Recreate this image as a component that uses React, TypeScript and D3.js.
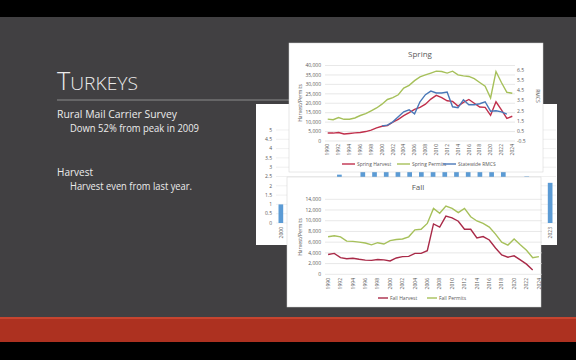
import React from "react";
import * as d3 from "d3";

// categories
const years = d3.range(1990, 2025);
const labelYears = years.filter((y) => y % 2 === 0);
const rmcsYears = d3.range(2000, 2024);

// spring series, 1990-2024
const springHarvest = [
  4200, 4200, 4500, 3700, 4000, 4300, 4500, 5000, 5800, 7000, 7800, 8200, 10000, 11500, 13400, 15000, 16800,
  17800, 19500, 22200, 24200, 23000, 21300, 21000, 18500, 20500, 22000, 20000, 18000, 17800, 13600, 20800,
  16500, 12000, 13100,
];
const springPermits = [
  11600, 11300, 12400, 11500, 11500, 12200, 13500, 14500, 16000, 17500, 19500, 22000, 23000, 24500, 28000,
  29500, 32000, 34000, 35000, 36000, 37000, 36800, 36000, 37000, 35000, 34500, 34200, 33000, 31000, 29000,
  22800, 36800, 31000, 25800, 25300,
];
// statewide RMCS, 2000-2023
const rmcs = [
  1.0, 1.08, 1.4, 1.9, 2.4, 2.6, 2.2, 3.4, 4.1, 4.46, 4.27, 4.27, 4.37, 2.9, 2.8, 3.6, 3.1, 3.1, 3.2, 3.4, 2.46,
  2.5, 2.4, 2.16,
];

// fall series, 1990-2024
const fallHarvest = [
  3700, 3900, 3100, 2900, 3000, 2800, 2650, 2600, 2750, 2700, 2500, 3050, 3300, 3350, 3900, 3900, 4400, 9400,
  8800, 10850, 10550, 9900, 8400, 8400, 6800, 7050, 6400, 4900, 3600, 3200, 3450, 2700, 1900, 800, null,
];
const fallPermits = [
  7000, 7200, 7000, 6200, 6150, 6000, 5850, 5500, 5900, 5650, 6300, 6500, 6600, 7000, 8300, 8400, 9500, 12300,
  11400, 12750, 12300, 11500, 12300, 10750, 9950, 9500, 8800, 7500, 6000, 5450, 6600, 5500, 4500, 3100, 3300,
];

// tick values
const springLeftTicks = [0, 5000, 10000, 15000, 20000, 25000, 30000, 35000, 40000];
const springRightTicks = [-0.5, 0.5, 1.5, 2.5, 3.5, 4.5, 5.5, 6.5];
const fallTicks = [0, 2000, 4000, 6000, 8000, 10000, 12000, 14000];
const bgTicks = [0, 0.5, 1, 1.5, 2, 2.5, 3, 3.5, 4, 4.5, 5];

const fmt = d3.format(",");
const axisGrey = "#595959";
const gridGrey = "#d9d9d9";
const red = "#c0304c";
const fallRed = "#a92a48";
const green = "#a6c05a";
const blue = "#4a78b8";
const barBlue = "#5b9bd5";
const chartFont = "'Open Sans', sans-serif";

type Pt = [number, number | null];

function linePath(
  xs: number[],
  vals: (number | null)[],
  x: (v: number) => number | undefined,
  y: (v: number) => number
) {
  const pts: Pt[] = xs.map((d, i) => [d, vals[i]]);
  return (
    d3
      .line<Pt>()
      .defined((d) => d[1] != null)
      .x((d) => x(d[0]) as number)
      .y((d) => y(d[1] as number))(pts) || ""
  );
}

const BackgroundChart = () => {
  const x = d3.scaleBand<number>().domain(rmcsYears).range([275, 556]).paddingInner(0.6).paddingOuter(0.3);
  const y = d3.scaleLinear().domain([0, 5]).range([223, 130]);
  return (
    <g fontFamily={chartFont}>
      <rect x={256} y={104} width={301} height={141} fill="#fff" />
      {bgTicks.map((t) => (
        <g key={t}>
          <line x1={276} x2={556} y1={y(t)} y2={y(t)} stroke="#e6e6e6" strokeWidth={0.6} />
          <text x={272} y={y(t)} dy="0.35em" textAnchor="end" fontSize={5} fill={axisGrey}>
            {t}
          </text>
        </g>
      ))}
      {rmcsYears.map((yr, i) => (
        <g key={yr}>
          <rect x={x(yr)} y={y(rmcs[i])} width={x.bandwidth()} height={y(0) - y(rmcs[i])} fill={barBlue} />
          <text
            transform={`translate(${(x(yr) as number) + x.bandwidth() / 2},227) rotate(-90)`}
            dy="0.35em"
            textAnchor="end"
            fontSize={5}
            fill={axisGrey}
          >
            {yr}
          </text>
        </g>
      ))}
    </g>
  );
};

const SpringChart = () => {
  const x = d3.scalePoint<number>().domain(years).range([325, 515]).padding(0.5);
  const yL = d3.scaleLinear().domain([0, 40000]).range([141, 65.5]);
  const yR = d3.scaleLinear().domain([-0.5, 7]).range([141, 65.5]);
  const legend = [
    { label: "Spring Harvest", color: red, x0: 342 },
    { label: "Spring Permits", color: green, x0: 397 },
    { label: "Statewide RMCS", color: blue, x0: 443 },
  ];
  return (
    <g fontFamily={chartFont}>
      <rect x={289} y={43} width={254} height={129} fill="#fff" stroke="#d0d0d0" strokeWidth={0.5} />
      <text x={420} y={57} textAnchor="middle" fontSize={8} fill={axisGrey}>
        Spring
      </text>
      {springLeftTicks.map((t) => (
        <g key={t}>
          <line x1={325} x2={515} y1={yL(t)} y2={yL(t)} stroke={gridGrey} strokeWidth={0.6} />
          <text x={321} y={yL(t)} dy="0.35em" textAnchor="end" fontSize={5} fill={axisGrey}>
            {fmt(t)}
          </text>
        </g>
      ))}
      {springRightTicks.map((t) => (
        <text key={t} x={517} y={yR(t)} dy="0.35em" fontSize={5} fill={axisGrey}>
          {t}
        </text>
      ))}
      {labelYears.map((yr) => (
        <text
          key={yr}
          transform={`translate(${x(yr)},144) rotate(-90)`}
          dy="0.35em"
          textAnchor="end"
          fontSize={5}
          fill={axisGrey}
        >
          {yr}
        </text>
      ))}
      <text transform="translate(300,103) rotate(-90)" textAnchor="middle" dy="0.35em" fontSize={5} fill={axisGrey}>
        Harvest/Permits
      </text>
      <text transform="translate(538,96) rotate(90)" textAnchor="middle" dy="0.35em" fontSize={5} fill={axisGrey}>
        RMCS
      </text>
      <path d={linePath(years, springPermits, x, yL)} fill="none" stroke={green} strokeWidth={1.4} />
      <path d={linePath(years, springHarvest, x, yL)} fill="none" stroke={red} strokeWidth={1.4} />
      <path d={linePath(rmcsYears, rmcs, x, yR)} fill="none" stroke={blue} strokeWidth={1.4} />
      {legend.map((l) => (
        <g key={l.label}>
          <line x1={l.x0} x2={l.x0 + 13} y1={164} y2={164} stroke={l.color} strokeWidth={1.4} />
          <text x={l.x0 + 15} y={164} dy="0.35em" fontSize={5} fill={axisGrey}>
            {l.label}
          </text>
        </g>
      ))}
    </g>
  );
};

const FallChart = () => {
  const x = d3.scalePoint<number>().domain(years).range([325, 542]).padding(0.5);
  const y = d3.scaleLinear().domain([0, 14000]).range([274.3, 199.3]);
  const legend = [
    { label: "Fall Harvest", color: fallRed, x0: 378 },
    { label: "Fall Permits", color: green, x0: 427 },
  ];
  return (
    <g fontFamily={chartFont}>
      <rect x={287} y={177} width={254} height={130} fill="#fff" stroke="#d0d0d0" strokeWidth={0.5} />
      <text x={418} y={190} textAnchor="middle" fontSize={8} fill={axisGrey}>
        Fall
      </text>
      {fallTicks.map((t) => (
        <g key={t}>
          <line x1={325} x2={542} y1={y(t)} y2={y(t)} stroke={gridGrey} strokeWidth={0.6} />
          <text x={321} y={y(t)} dy="0.35em" textAnchor="end" fontSize={5} fill={axisGrey}>
            {fmt(t)}
          </text>
        </g>
      ))}
      {labelYears.map((yr) => (
        <text
          key={yr}
          transform={`translate(${x(yr)},278) rotate(-90)`}
          dy="0.35em"
          textAnchor="end"
          fontSize={5}
          fill={axisGrey}
        >
          {yr}
        </text>
      ))}
      <text transform="translate(300,237) rotate(-90)" textAnchor="middle" dy="0.35em" fontSize={5} fill={axisGrey}>
        Harvest/Permits
      </text>
      <path d={linePath(years, fallPermits, x, y)} fill="none" stroke={green} strokeWidth={1.4} />
      <path d={linePath(years, fallHarvest, x, y)} fill="none" stroke={fallRed} strokeWidth={1.4} />
      {legend.map((l) => (
        <g key={l.label}>
          <line x1={l.x0} x2={l.x0 + 10} y1={298} y2={298} stroke={l.color} strokeWidth={1.4} />
          <text x={l.x0 + 12} y={298} dy="0.35em" fontSize={5} fill={axisGrey}>
            {l.label}
          </text>
        </g>
      ))}
    </g>
  );
};

export default function App() {
  const slideFont = "'Open Sans', 'Lato', sans-serif";
  return (
    <svg width={576} height={360} style={{ position: "absolute", left: 0, top: 0, display: "block" }}>
      <rect x={0} y={0} width={576} height={360} fill="#000" />
      <rect x={0} y={17} width={576} height={301} fill="#414042" />
      <rect x={0} y={317} width={576} height={25} fill="#ad3120" />
      <rect x={0} y={317} width={576} height={2} fill="#c64530" />

      <g fontFamily={slideFont} fill="#ececec">
        <text x={57} y={90} fontWeight={300} textLength={81} lengthAdjust="spacingAndGlyphs">
          <tspan fontSize={25}>T</tspan>
          <tspan fontSize={19}>URKEYS</tspan>
        </text>
        <text x={57} y={118} fontSize={11.5} textLength={120} lengthAdjust="spacingAndGlyphs">
          Rural Mail Carrier Survey
        </text>
        <text x={70} y={132} fontSize={10.5} textLength={129} lengthAdjust="spacingAndGlyphs">
          Down 52% from peak in 2009
        </text>
        <text x={57} y={176} fontSize={11.5} textLength={36} lengthAdjust="spacingAndGlyphs">
          Harvest
        </text>
        <text x={70} y={190} fontSize={10.5} textLength={122} lengthAdjust="spacingAndGlyphs">
          Harvest even from last year.
        </text>
      </g>
      <line x1={57} x2={300} y1={100} y2={100} stroke="#8c8c8c" strokeWidth={1} />

      <BackgroundChart />
      <SpringChart />
      <FallChart />
    </svg>
  );
}
